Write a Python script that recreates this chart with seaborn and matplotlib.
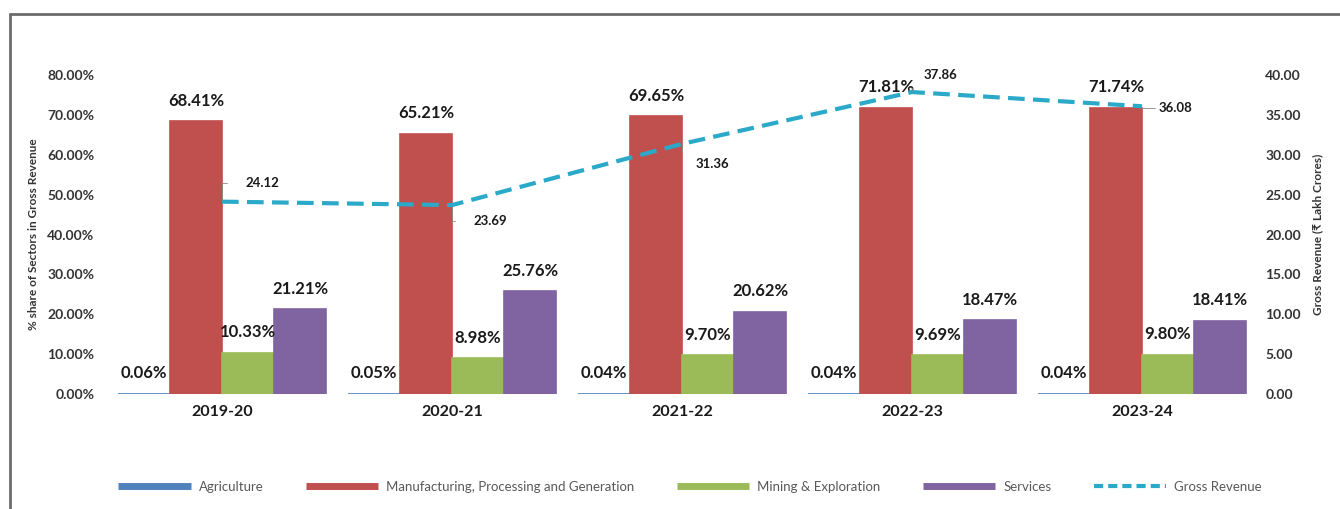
import numpy as np
import pandas as pd
import matplotlib
matplotlib.use("Agg")
import matplotlib.pyplot as plt
from matplotlib.lines import Line2D
import seaborn as sns

years = ["2019-20", "2020-21", "2021-22", "2022-23", "2023-24"]
sectors = ["Agriculture", "Manufacturing, Processing and Generation",
           "Mining & Exploration", "Services"]
agriculture = [0.06, 0.05, 0.04, 0.04, 0.04]
manufacturing = [68.41, 65.21, 69.65, 71.81, 71.74]
mining = [10.33, 8.98, 9.70, 9.69, 9.80]
services = [21.21, 25.76, 20.62, 18.47, 18.41]
gross_revenue = [24.12, 23.69, 31.36, 37.86, 36.08]
left_ticks = [0, 10, 20, 30, 40, 50, 60, 70, 80]
right_ticks = [0, 5, 10, 15, 20, 25, 30, 35, 40]

colors = ["#4F81BD", "#C0504D", "#9BBB59", "#8064A2"]
line_color = "#2AAAC8"

sns.set_theme(style="white")
plt.rcParams["font.family"] = ["Lato", "DejaVu Sans"]

rows = []
for vals, s in zip([agriculture, manufacturing, mining, services], sectors):
    for y, v in zip(years, vals):
        rows.append({"Year": y, "Sector": s, "Share": v})
df = pd.DataFrame(rows)

fig = plt.figure(figsize=(13.4, 5.09), dpi=100)
ax = fig.add_axes([107 / 1340, 115 / 509, 1150 / 1340, 319 / 509])

sns.barplot(data=df, x="Year", y="Share", hue="Sector", hue_order=sectors,
            order=years, palette=colors, width=0.905, gap=0, ax=ax,
            saturation=1, legend=False, errorbar=None)

for cont, c in zip(ax.containers, colors):
    for p in cont:
        p.set_edgecolor(c)
        p.set_linewidth(1.2)

ax.set_ylim(0, 80)
ax.set_xlim(-0.5, len(years) - 0.5)
ax.set_yticks(left_ticks)
ax.set_yticklabels([f"{t:.2f}%" for t in left_ticks], fontsize=10,
                   fontweight="bold", color="#333333")
ax.set_xticks(range(len(years)))
ax.set_xticklabels(years, fontsize=11.5, fontweight="bold", color="#1a1a1a")
ax.tick_params(axis="y", length=0, pad=9)
ax.tick_params(axis="x", length=0, pad=8)
ax.set_xlabel("")
ax.set_ylabel("% share of Sectors in Gross Revenue", fontsize=8.5,
              fontweight="bold", color="#333333", labelpad=6)
for sp in ax.spines.values():
    sp.set_visible(False)

for cont in ax.containers:
    labels = [f"{v:.2f}%" for v in cont.datavalues]
    ax.bar_label(cont, labels=labels, padding=9, fontsize=12,
                 fontweight="bold", color="#1a1a1a")

ax2 = ax.twinx()
xpos = np.arange(len(years))
sns.lineplot(x=xpos, y=gross_revenue, ax=ax2, color=line_color, lw=3,
             dashes=False, linestyle=(0, (4, 2)))
ax2.set_ylim(0, 40)
ax2.set_yticks(right_ticks)
ax2.set_yticklabels([f"{t:.2f}" for t in right_ticks], fontsize=10,
                    fontweight="bold", color="#333333")
ax2.tick_params(axis="y", length=0, pad=6)
ax2.set_ylabel("Gross Revenue (\u20b9 Lakh Crores)", fontsize=8.5,
               fontweight="bold", color="#333333", labelpad=8)
for sp in ax2.spines.values():
    sp.set_visible(False)
ax2.grid(False)
ax.grid(False)

offsets = [(40, 19), (38, -16), (30, -20), (28, 17), (33, -2)]
for x, v, (dx, dy) in zip(xpos, gross_revenue, offsets):
    ax2.annotate(f"{v:.2f}", xy=(x, v), xytext=(dx * 0.72, dy * 0.72),
                 textcoords="offset points", ha="center", va="center",
                 fontsize=9.5, fontweight="bold", color="#1a1a1a",
                 arrowprops=dict(arrowstyle="-", color="#888888", lw=0.6,
                                 shrinkA=11, shrinkB=1,
                                 connectionstyle="angle,angleA=0,angleB=90,rad=0"))

handles = [Line2D([0], [0], color=c, lw=5, solid_capstyle="butt") for c in colors]
handles.append(Line2D([0], [0], color=line_color, lw=3,
                      linestyle=(0, (2.2, 1.2)), dash_capstyle="butt"))
fig.legend(handles, sectors + ["Gross Revenue"], loc="center",
           bbox_to_anchor=(0.515, 22 / 509), ncol=5, frameon=False,
           fontsize=9.5, handlelength=5.5, columnspacing=3.2,
           labelcolor="#595959", handletextpad=0.6)

fig.add_artist(Line2D([10 / 1340, 10 / 1340], [0, 1 - 14 / 509],
                      color="#6b6b6b", lw=2, transform=fig.transFigure))
fig.add_artist(Line2D([10 / 1340, 1], [1 - 14 / 509, 1 - 14 / 509],
                      color="#6b6b6b", lw=2, transform=fig.transFigure))

fig.savefig("out.png", dpi=100)
